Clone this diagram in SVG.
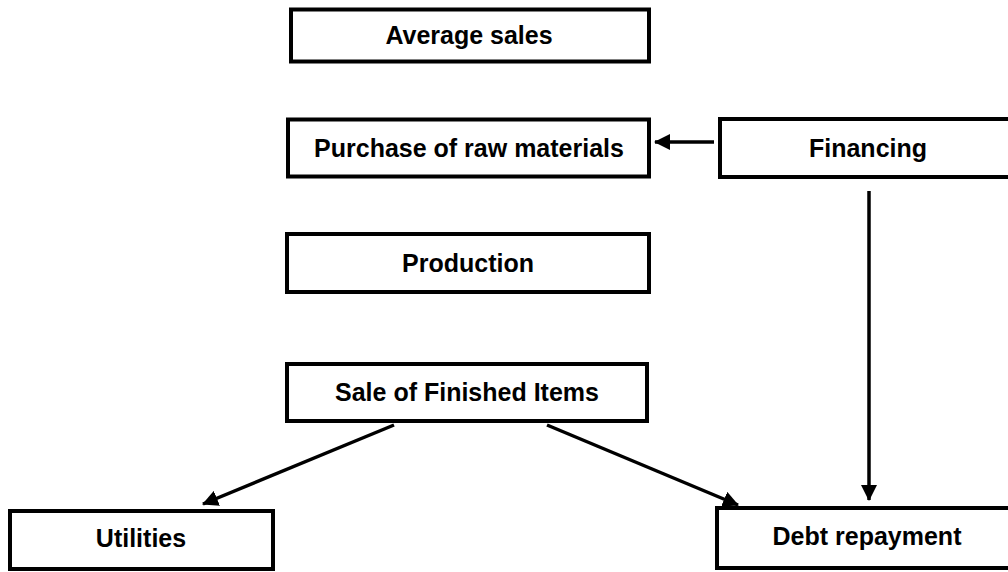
<svg xmlns="http://www.w3.org/2000/svg" width="1008" height="572" viewBox="0 0 1008 572">
<style>
.box{fill:#fff;stroke:#000;stroke-width:4}
.lbl{font-family:"Liberation Sans",Arial,sans-serif;font-weight:bold;font-size:25px;fill:#000;text-anchor:middle}
.conn{stroke:#000;stroke-width:3.5;fill:none;marker-end:url(#ah)}
</style>
<defs>
<marker id="ah" markerUnits="userSpaceOnUse" markerWidth="16" markerHeight="16" viewBox="0 0 16 16" refX="15" refY="8" orient="auto">
<path d="M0,0 L16,8 L0,16 Z" fill="#000"/>
</marker>
</defs>
<rect width="1008" height="572" fill="#fff"/>
<g id="connectors">
<line class="conn" x1="714" y1="142" x2="655" y2="142"/>
<line class="conn" x1="869" y1="191" x2="869" y2="500"/>
<line class="conn" x1="394" y1="425" x2="203" y2="504"/>
<line class="conn" x1="547" y1="425" x2="738" y2="505"/>
</g>
<g id="average-sales">
<rect class="box" x="291" y="9.5" width="358" height="52"/>
<text class="lbl" x="469" y="44">Average sales</text>
</g>
<g id="purchase">
<rect class="box" x="288" y="119.5" width="361" height="57"/>
<text class="lbl" x="469" y="157">Purchase of raw materials</text>
</g>
<g id="financing">
<rect class="box" x="720" y="119" width="300" height="58"/>
<text class="lbl" x="868" y="157">Financing</text>
</g>
<g id="production">
<rect class="box" x="287" y="234" width="362" height="58"/>
<text class="lbl" x="468" y="272">Production</text>
</g>
<g id="sale">
<rect class="box" x="287" y="364" width="360" height="57"/>
<text class="lbl" x="467" y="401">Sale of Finished Items</text>
</g>
<g id="utilities">
<rect class="box" x="10" y="511" width="263" height="58"/>
<text class="lbl" x="141" y="547">Utilities</text>
</g>
<g id="debt">
<rect class="box" x="717" y="508" width="300" height="60"/>
<text class="lbl" x="867" y="545">Debt repayment</text>
</g>
</svg>
